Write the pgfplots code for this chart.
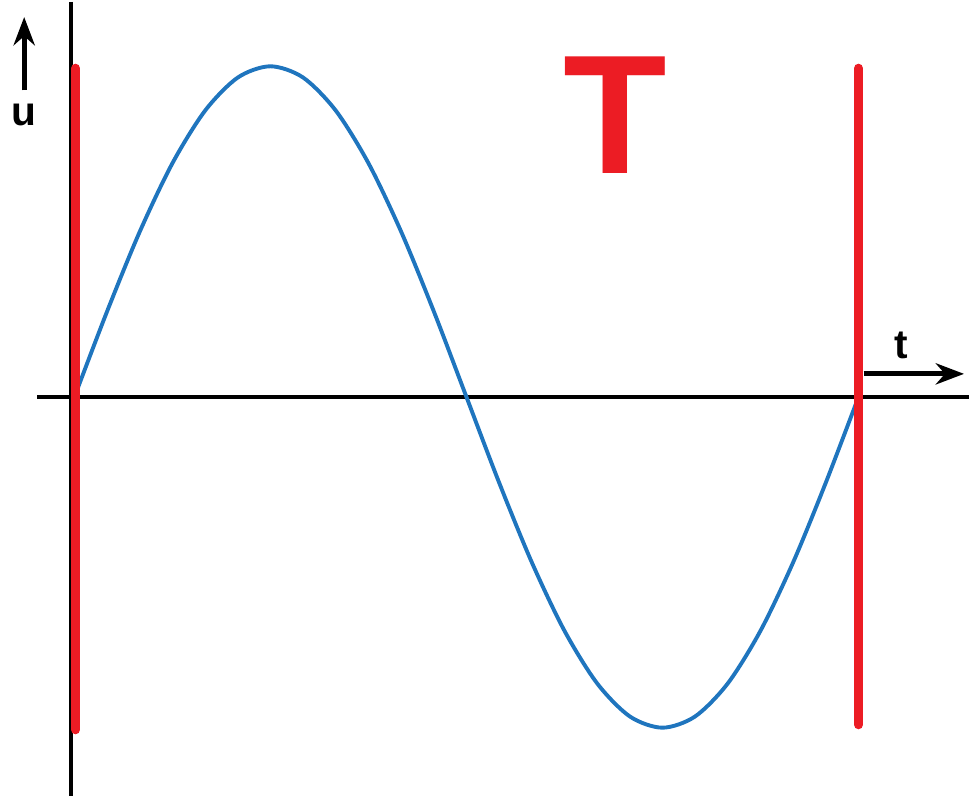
\documentclass[border=0pt]{standalone}
\usepackage{pgfplots}
\pgfplotsset{compat=1.18}
\usepackage{fontspec}
\setmainfont{Liberation Sans}
\usetikzlibrary{arrows.meta}
\definecolor{waveblue}{RGB}{31,117,190}
\definecolor{markred}{RGB}{236,28,36}
\begin{document}
\begin{tikzpicture}
  \begin{axis}[
      width=9.71cm, height=7.95cm,
      scale only axis,
      hide axis,
      clip=false,
      xmin=0, xmax=971,
      ymin=-397, ymax=398,
    ]
    % axes
    \addplot[black, line width=1.1pt] coordinates {(72,393) (72,-397)};
    \addplot[black, line width=1.1pt] coordinates {(38,0) (965,0)};
    % direction arrows
    \addplot[black, line width=1.4pt, -{Stealth[length=8pt,width=6pt]}] coordinates {(25,305) (25,378)};
    \addplot[black, line width=1.4pt, -{Stealth[length=8pt,width=6pt]}] coordinates {(860,23) (960,23)};
    \node[font=\fontsize{11.5}{11.5}\selectfont\bfseries] at (axis cs:25,281) {u};
    \node[font=\fontsize{11.5}{11.5}\selectfont\bfseries] at (axis cs:898,51) {t};
    % one period
    \addplot[waveblue, line width=1.1pt, smooth] coordinates {
      (75,0) (107.5,85.2) (140,164.5) (172.5,232.6) (205,284.9) (237.5,317.8)
      (270,329) (302.5,317.8) (335,284.9) (367.5,232.6) (400,164.5) (432.5,85.2)
      (465,0) (497.5,-85.2) (530,-164.5) (562.5,-232.6) (595,-284.9) (627.5,-317.8)
      (660,-329) (692.5,-317.8) (725,-284.9) (757.5,-232.6) (790,-164.5) (822.5,-85.2)
      (855,0)
    };
    % period markers
    \addplot[markred, line width=2.6pt, line cap=round] coordinates {(76,327) (76,-331)};
    \addplot[markred, line width=2.6pt, line cap=round] coordinates {(855,327) (855,-326)};
    \node[text=markred, font=\fontsize{48}{48}\selectfont\bfseries] at (axis cs:613,280) {T};
  \end{axis}
\end{tikzpicture}
\end{document}
